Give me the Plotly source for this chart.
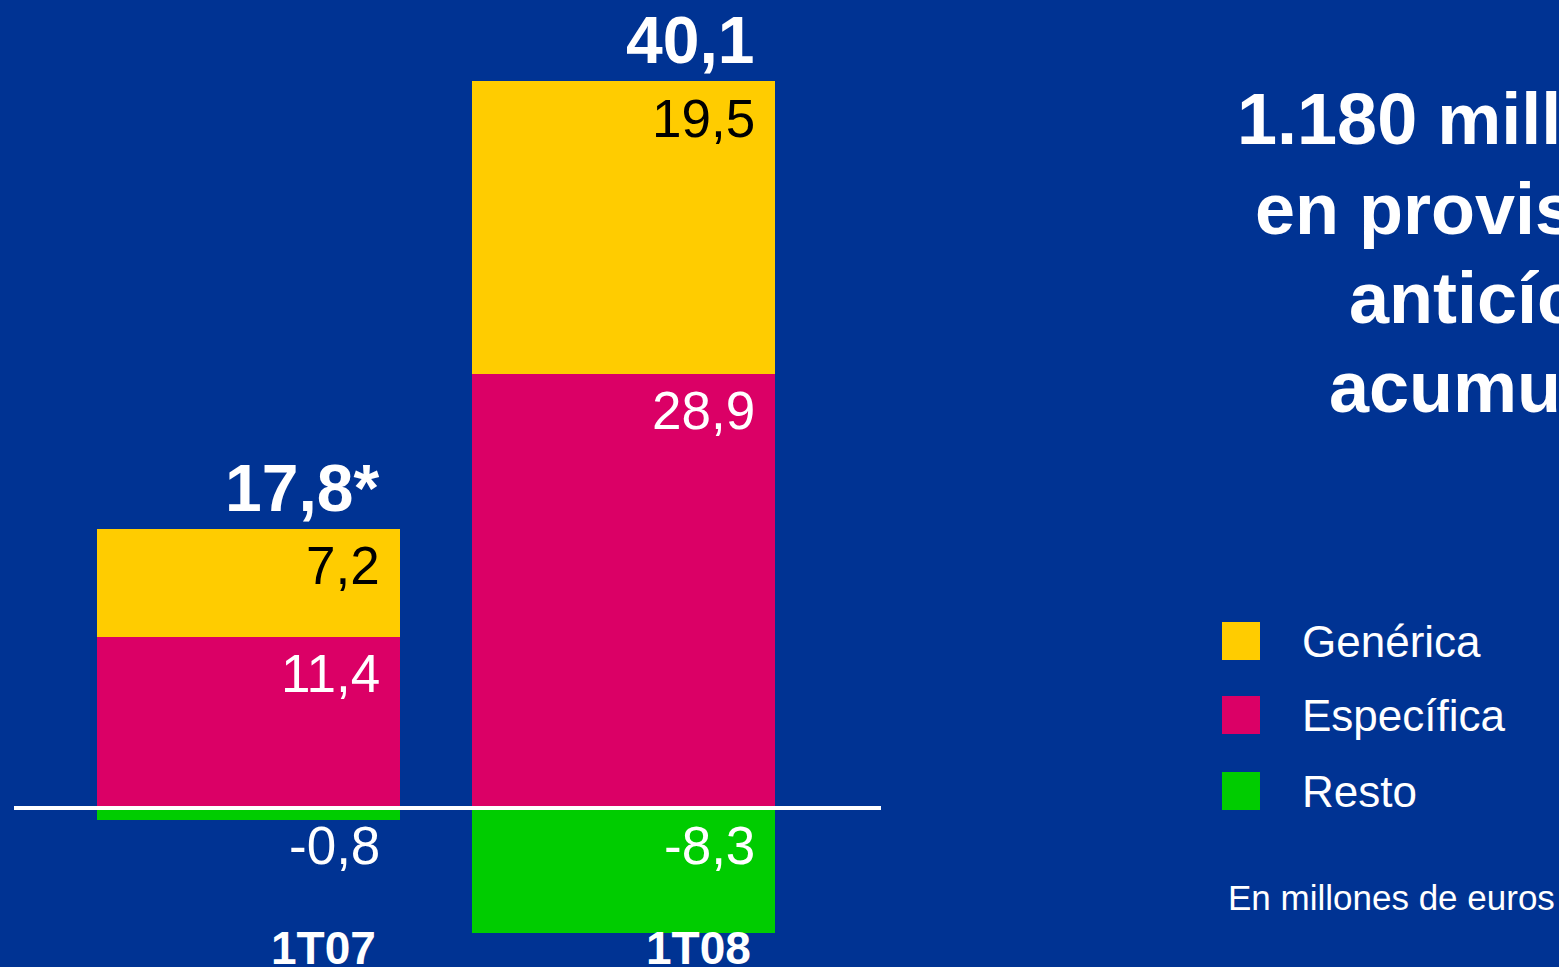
import plotly.graph_objects as go

categories = ["1T07", "1T08"]
generica = [7.2, 19.5]
especifica = [11.4, 28.9]
resto = [-0.8, -8.3]
totals = [17.8, 40.1]
total_labels = ["17,8*", "40,1"]
series_names = ["Genérica", "Específica", "Resto"]
series_colors = ["#FFCC00", "#DB0066", "#00CC00"]
label_colors = ["black", "white", "white"]
title_lines = ["1.180 millones", "en provisión", "anticíclica", "acumulada"]
note = "En millones de euros"

BG = "#003393"
W, H = 1559, 967
BAR_W = 0.808

def fmt(v):
    return f"{v:.1f}".replace(".", ",")

fig = go.Figure()
xs = [0, 1]
series = [generica, especifica, resto]
# stacking order: específica at the base, genérica on top, resto below zero
for idx in [1, 0, 2]:
    fig.add_trace(go.Bar(x=xs, y=series[idx], name=series_names[idx],
                         marker=dict(color=series_colors[idx], line=dict(width=0)),
                         width=BAR_W, showlegend=False, hoverinfo="skip"))

annotations = []
for i in xs:
    tops = [generica[i] + especifica[i], especifica[i], 0]
    for s, (vals, tcol) in enumerate(zip(series, label_colors)):
        annotations.append(dict(x=i + BAR_W / 2, y=tops[s], xref="x", yref="y", text=fmt(vals[i]),
                                showarrow=False, xanchor="right", yanchor="middle",
                                xshift=-18, yshift=-37,
                                font=dict(family="Liberation Sans", size=53, color=tcol)))
    annotations.append(dict(x=i + BAR_W / 2, y=generica[i] + especifica[i], xref="x", yref="y",
                            text=total_labels[i], showarrow=False, xanchor="right", yanchor="middle",
                            xshift=-19, yshift=41,
                            font=dict(family="Liberation Sans", size=66, color="white", weight="bold")))
    annotations.append(dict(x=i + BAR_W / 2, y=(H - 948) / H, xref="x", yref="paper",
                            text=categories[i], showarrow=False, xanchor="right", yanchor="middle",
                            xshift=-22,
                            font=dict(family="Liberation Sans", size=46, color="white", weight="bold")))

# title lines (centred block, cut by the right edge as in the original)
title_x = [1235, 1253, 1347, 1327]
title_y = [119, 209, 298, 387]
for txt, tx, ty in zip(title_lines, title_x, title_y):
    annotations.append(dict(x=tx / W, y=(H - ty) / H, xref="paper", yref="paper",
                            text=txt, showarrow=False, xanchor="left", yanchor="middle",
                            font=dict(family="Liberation Sans", size=72, color="white", weight="bold")))

shapes = []
legend_y = [641, 715, 791]
for name, col, yc in zip(series_names, series_colors, legend_y):
    shapes.append(dict(type="rect", xref="paper", yref="paper",
                       x0=1222 / W, x1=1260 / W, y0=(H - yc - 19) / H, y1=(H - yc + 19) / H,
                       fillcolor=col, line=dict(width=0)))
    annotations.append(dict(x=1300 / W, y=(H - yc) / H, xref="paper", yref="paper", text=name,
                            showarrow=False, xanchor="left", yanchor="middle",
                            font=dict(family="Liberation Sans", size=44, color="white")))
annotations.append(dict(x=1226 / W, y=(H - 897) / H, xref="paper", yref="paper", text=note,
                        showarrow=False, xanchor="left", yanchor="middle",
                        font=dict(family="Liberation Sans", size=35, color="white")))

shapes.append(dict(type="line", xref="x domain", yref="y", x0=0, x1=1, y0=0, y1=0,
                   line=dict(color="white", width=4), layer="above"))

scale = 15.02
zero_px = 808
x_left, x_right = 14, 881
c0 = 248.5
unit = 375

fig.update_layout(
    width=W, height=H, barmode="relative",
    paper_bgcolor=BG, plot_bgcolor=BG,
    margin=dict(l=0, r=0, t=0, b=0),
    xaxis=dict(domain=[x_left / W, x_right / W],
               range=[(x_left - c0) / unit, (x_right - c0) / unit],
               visible=False, fixedrange=True),
    yaxis=dict(domain=[0, 1], range=[-(H - zero_px) / scale, zero_px / scale],
               visible=False, fixedrange=True),
    annotations=annotations, shapes=shapes, bargap=0,
)

fig.write_html("out.html", config={"displayModeBar": False},
               post_script="document.body.style.margin='0';document.body.style.background='%s';" % BG)
